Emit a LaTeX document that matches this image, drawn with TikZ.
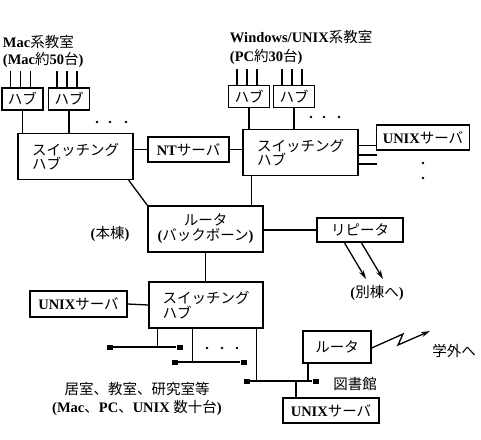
\documentclass[tikz,border=0pt]{standalone}
\usepackage{fontspec}
\setmainfont{Liberation Serif}
\newfontfamily\jp{Noto Sans CJK JP}
\newcommand{\J}[1]{{\jp\mdseries #1}}
\usetikzlibrary{arrows.meta}

\begin{document}
\begin{tikzpicture}[x=1pt,y=-1pt,line width=1.3pt,>={Stealth[length=9pt,width=5pt]},
  font=\fontsize{14.5}{15}\selectfont\bfseries,
  box/.style={draw,inner sep=0pt,align=center},
  hubbox/.style={box,minimum width=41pt,minimum height=22pt},
  swbox/.style={box,align=left,minimum width=115pt,minimum height=46pt,
    font=\fontsize{14.5}{13.5}\selectfont\bfseries},
  srvbox/.style={box,minimum height=25pt},
  term/.style={fill,inner sep=0pt,minimum width=6pt,minimum height=5pt}]
  \useasboundingbox (0,0) rectangle (481,439);
  % salas
  \node[anchor=west,align=left] (macroom) at (-1,51) {Mac\J{系教室}\\[2pt](Mac\J{約}50\J{台})};
  \node[anchor=west,align=left] (winroom) at (226,47.5) {Windows/UNIX\J{系教室}\\[4pt](PC\J{約}30\J{台})};
  % hubs
  \node[hubbox] (hubA) at (22.5,99) {\J{ハブ}};
  \node[hubbox] (hubB) at (69,99) {\J{ハブ}};
  \node[hubbox] (hubC) at (249,96.5) {\J{ハブ}};
  \node[hubbox] (hubD) at (294,96.5) {\J{ハブ}};
  \foreach \h in {hubA,hubB,hubC,hubD}
    \foreach \dx in {-12,-2,8} \draw ([xshift=\dx pt]\h.north) -- ++(0,-16);
  % switches y servidores
  \node[swbox] (swA) at (75.5,156.5) {\J{スイッチング}\\\J{ハブ}};
  \node[srvbox,minimum width=81pt] (ntsv) at (188.5,149.5) {NT\J{サーバ}};
  \node[swbox] (swB) at (300.5,152.5) {\J{スイッチング}\\\J{ハブ}};
  \node[srvbox,minimum width=93pt] (unixA) at (423,137.5) {UNIX\J{サーバ}};
  \node[box,minimum width=115pt,minimum height=46pt] (router) at (205.5,229) {\J{ルータ}\\(\J{バックボーン})};
  \node[srvbox,minimum width=86pt,minimum height=24pt] (rep) at (360,230) {\J{リピータ}};
  \node[swbox,minimum width=114pt] (swC) at (206,305) {\J{スイッチング}\\\J{ハブ}};
  \node[srvbox,minimum width=97pt,minimum height=26pt] (unixB) at (78.5,304) {UNIX\J{サーバ}};
  \node[box,minimum width=68pt,minimum height=32pt] (libr) at (337,347) {\J{ルータ}};
  \node[srvbox,minimum width=96pt] (unixC) at (331,410.5) {UNIX\J{サーバ}};
  % rotulos
  \node (honto) at (110,234) {(\J{本棟})};
  \node (betto) at (377,293) {(\J{別棟へ})};
  \node (gakugai) at (454,351) {\J{学外へ}};
  \node (tosho) at (355,384) {\J{図書館}};
  \node[align=center] (rooms) at (137,399) {\J{居室、教室、研究室等}\\[3pt](Mac\J{、}PC\J{、}UNIX \J{数十台})};
  % conexiones arriba
  \draw (hubA.south) -- (hubA.south |- swA.north);
  \draw (hubB.south) -- (hubB.south |- swA.north);
  \draw (ntsv.west) -- (ntsv.west -| swA.east);
  \draw (ntsv.east) -- (ntsv.east -| swB.west);
  \draw (hubC.south) -- (hubC.south |- swB.north);
  \draw (hubD.south) -- (hubD.south |- swB.north);
  \draw ([yshift=-8pt]unixA.west) -- ([yshift=-8pt]unixA.west -| swB.east);
  \coordinate (stubA) at (377,155);
  \coordinate (stubB) at (377,164);
  \draw (stubA -| swB.east) -- (stubA);
  \draw (stubB -| swB.east) -- (stubB);
  \foreach \x in {97,110,126} \fill (\x,122) circle (1.3pt);
  \foreach \x in {311,324,339} \fill (\x,117) circle (1.3pt);
  \foreach \y in {163,178} \fill (423,\y) circle (1.3pt);
  % backbone
  \draw ([xshift=-5pt]swA.south east) -- (router.north west);
  \draw ([xshift=9pt]swB.south west) -- ([xshift=9pt]swB.south west |- router.north);
  \draw (rep.west) -- (rep.west -| router.east);
  \draw (router.south) -- (router.south |- swC.north);
  \draw (unixB.east) -- (swC.west);
  % repetidor
  \coordinate (toA) at (366,279);
  \coordinate (toB) at (383,279);
  \draw[->] ([xshift=28pt]rep.south west) -- (toA);
  \draw[->] ([xshift=45pt]rep.south west) -- (toB);
  % buses
  \node[term] (t1) at (109.5,347) {};
  \node[term] (t2) at (179.5,347) {};
  \node[term] (t3) at (174.5,362) {};
  \node[term] (t4) at (244,362) {};
  \node[term] (t5) at (246.5,381) {};
  \node[term] (t6) at (316,381) {};
  \draw (t1) -- (t2);
  \draw (t3) -- (t4);
  \draw (t5) -- (t6);
  \draw ([xshift=9pt]swC.south west) -- ([xshift=9pt]swC.south west |- t1);
  \draw ([xshift=44pt]swC.south west) -- ([xshift=44pt]swC.south west |- t3);
  \draw ([xshift=-7pt]swC.south east) -- ([xshift=-7pt]swC.south east |- t5);
  \draw ([xshift=-29pt]libr.south) -- ([xshift=-29pt]libr.south |- t5);
  \draw ([xshift=-35pt]unixC.north) -- ([xshift=-35pt]unixC.north |- t5);
  \foreach \x in {207,222,237} \fill (\x,348) circle (1.3pt);
  % salida
  \coordinate (zA) at (403,334);
  \coordinate (zB) at (398,345);
  \coordinate (gate) at (430,331);
  \draw[->] ([yshift=-1pt]libr.east) -- (zA) -- (zB) -- (gate);
\end{tikzpicture}
\end{document}
